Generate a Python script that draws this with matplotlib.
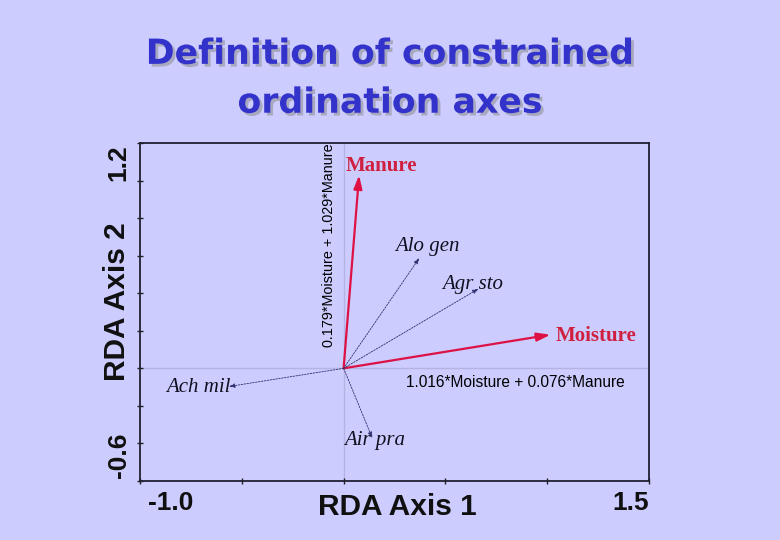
import numpy as np
import matplotlib.pyplot as plt
import matplotlib.patheffects as pe

# environmental variables (red arrows)
env_names = ['Manure', 'Moisture']
env_x = [0.076, 1.016]
env_y = [1.029, 0.179]

# species (dotted arrows)
spp_names = ['Alo gen', 'Agr sto', 'Ach mil', 'Air pra']
spp_x = [0.372, 0.663, -0.564, 0.141]
spp_y = [0.588, 0.424, -0.097, -0.372]

xlim = (-1.0, 1.5)
ylim = (-0.6, 1.2)

bg = '#ccccff'
fig = plt.figure(figsize=(7.8, 5.4), dpi=100, facecolor=bg)
ax = fig.add_axes([0.1795, 0.1093, 0.6526, 0.6259], facecolor=bg)
ax.set_xlim(*xlim)
ax.set_ylim(*ylim)

ax.axhline(0, color='#b4b4e4', lw=1, zorder=0)
ax.axvline(0, color='#b4b4e4', lw=1, zorder=0)

red = '#dd1144'
for n, x, y in zip(env_names, env_x, env_y):
    ax.annotate('', xy=(x, y), xytext=(0, 0),
                arrowprops=dict(arrowstyle='-|>,head_length=0.8,head_width=0.25',
                                color=red, lw=1.6, shrinkA=0, shrinkB=0))
# labels of env arrows
ax.text(env_x[0] - 0.065, env_y[0] + 0.05, env_names[0], color='#d02040', fontsize=15,
        fontweight='bold', family='Liberation Serif', ha='left', va='center')
ax.text(env_x[1] + 0.025, env_y[1] - 0.005, env_names[1], color='#d02040', fontsize=15,
        fontweight='bold', family='Liberation Serif', ha='left', va='center')

navy = '#303070'
for n, x, y in zip(spp_names, spp_x, spp_y):
    ax.annotate('', xy=(x, y), xytext=(0, 0),
                arrowprops=dict(arrowstyle='-|>,head_length=0.35,head_width=0.12',
                                color=navy, lw=0.6, ls=(0, (2, 1.5)),
                                shrinkA=0, shrinkB=0))

spp_off = [(-0.12, 0.06, 'left'), (-0.18, 0.02, 'left'),
           (0.01, -0.005, 'right'), (-0.14, -0.015, 'left')]
for n, x, y, (dx, dy, ha) in zip(spp_names, spp_x, spp_y, spp_off):
    ax.text(x + dx, y + dy, n, fontsize=15, style='italic', family='Liberation Serif',
            ha=ha, va='center', color='#101020')

# axis definitions
ax.text(-0.07, 1.2, '0.179*Moisture + 1.029*Manure', rotation=90, fontsize=10.4,
        family='Liberation Sans', ha='center', va='top')
ax.text(0.305, -0.075, '1.016*Moisture + 0.076*Manure', fontsize=11.2,
        family='Liberation Sans', ha='left', va='center')

ax.set_xticks(np.arange(-1.0, 1.51, 0.5))
ax.set_yticks(np.arange(-0.6, 1.21, 0.2))
ax.set_xticklabels([])
ax.set_yticklabels([])
ax.tick_params(direction='inout', length=5, width=1, color='#202020')
for s in ax.spines.values():
    s.set_linewidth(1.3)
    s.set_color('#202030')

lab = dict(family='Liberation Sans', fontweight='bold', color='#101010')
fig.text(0.509, 0.061, 'RDA Axis 1', fontsize=21.5, ha='center', va='center', **lab)
fig.text(0.190, 0.068, '-1.0', fontsize=19, ha='left', va='center', **lab)
fig.text(0.832, 0.068, '1.5', fontsize=19, ha='right', va='center', **lab)
fig.text(0.150, 0.441, 'RDA Axis 2', fontsize=21.5, rotation=90, ha='center', va='center', **lab)
fig.text(0.152, 0.733, '1.2', fontsize=19, rotation=90, ha='center', va='top', **lab)
fig.text(0.152, 0.115, '-0.6', fontsize=19, rotation=90, ha='center', va='bottom', **lab)

fig.text(0.50, 0.855, 'Definition of constrained\nordination axes', fontsize=25,
         color='#3333cc', ha='center', va='center', linespacing=1.55,
         family='DejaVu Sans', fontweight='bold',
         path_effects=[pe.withSimplePatchShadow(offset=(2, -2), shadow_rgbFace='#a0a0b0', alpha=0.8)])

fig.savefig('out.png', dpi=100, facecolor=bg)
